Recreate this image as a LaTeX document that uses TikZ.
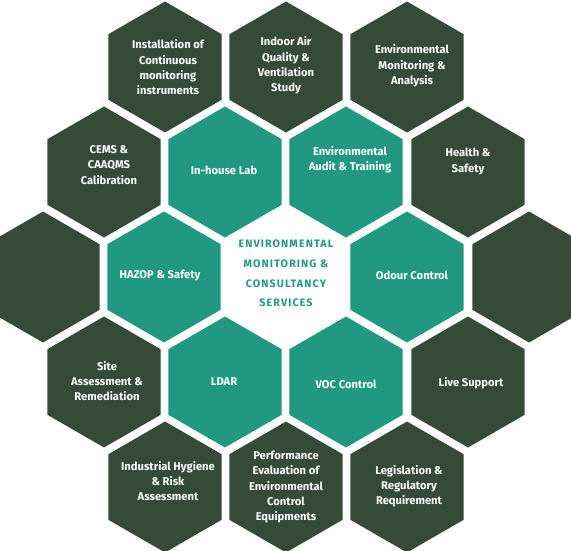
\documentclass[tikz,border=0pt]{standalone}
\usepackage{fontspec}
\setmainfont{Fira Sans}
\usetikzlibrary{shapes.geometric}
\definecolor{hexdark}{HTML}{354B37}
\definecolor{hexteal}{HTML}{219882}
\tikzset{
  hexbase/.style={regular polygon, regular polygon sides=6, shape border rotate=30,
    minimum size=131pt, inner sep=0pt},
  hexd/.style={hexbase, fill=hexdark},
  hext/.style={hexbase, fill=hexteal},
  txt/.style={align=center, text=white, inner sep=0pt,
    font=\fontsize{11.2}{15.3}\selectfont\bfseries},
  ctxt/.style={align=center, text=hexteal, inner sep=0pt,
    font=\fontsize{10.8}{19.7}\selectfont\bfseries\addfontfeatures{LetterSpace=10}}
}
\begin{document}
\begin{tikzpicture}[x=1pt,y=-1pt]
\path[use as bounding box] (0,0) rectangle (571,551);
% row 1
\node[hexd] (r1a) at (165,67) {};
\node[hexd] (r1b) at (286,67) {};
\node[hexd] (r1c) at (407,67) {};
% row 2
\node[hexd] (r2a) at (104,172) {};
\node[hext] (r2b) at (225,172) {};
\node[hext] (r2c) at (346,172) {};
\node[hexd] (r2d) at (468,172) {};
% row 3
\node[hexd] (r3a) at (43,277) {};
\node[hext] (r3b) at (164,277) {};
\node[hexd] (r3e) at (529,277) {};
\node[hext] (r3d) at (407,277) {};
% row 4
\node[hexd] (r4a) at (104,382) {};
\node[hext] (r4b) at (225,382) {};
\node[hext] (r4c) at (346,382) {};
\node[hexd] (r4d) at (468,382) {};
% row 5
\node[hexd] (r5a) at (165,487) {};
\node[hexd] (r5b) at (286,487) {};
\node[hexd] (r5c) at (407,487) {};
% texts
\node[txt] (t1a) at (168,67.5) {Installation of\\Continuous\\monitoring\\instruments};
\node[txt] (t1b) at (286,65.5) {Indoor Air\\Quality \&\\Ventilation\\Study};
\node[txt] (t1c) at (412,66) {Environmental\\Monitoring \&\\Analysis};
\node[txt] (t2a) at (109,165) {CEMS \&\\CAAQMS\\Calibration};
\node[txt] (t2b) at (224,170) {In-house Lab};
\node[txt] (t2c) at (350,160) {Environmental\\Audit \& Training};
\node[txt] (t2d) at (468,161.5) {Health \&\\Safety};
\node[txt] (t3b) at (160,275) {HAZOP \& Safety};
\node[ctxt] (t3c) at (286,273.5) {ENVIRONMENTAL\\MONITORING \&\\CONSULTANCY\\SERVICES};
\node[txt] (t3d) at (412,275) {Odour Control};
\node[txt] (t4a) at (107,381) {Site\\Assessment \&\\Remediation};
\node[txt] (t4b) at (224,382) {LDAR};
\node[txt] (t4c) at (346,384) {VOC Control};
\node[txt] (t4d) at (471,383) {Live Support};
\node[txt] (t5a) at (168,481) {Industrial Hygiene\\\& Risk\\Assessment};
\node[txt] (t5b) at (286,487) {Performance\\Evaluation of\\Environmental\\Control\\Equipments};
\node[txt] (t5c) at (409,486) {Legislation \&\\Regulatory\\Requirement};
\end{tikzpicture}
\end{document}
